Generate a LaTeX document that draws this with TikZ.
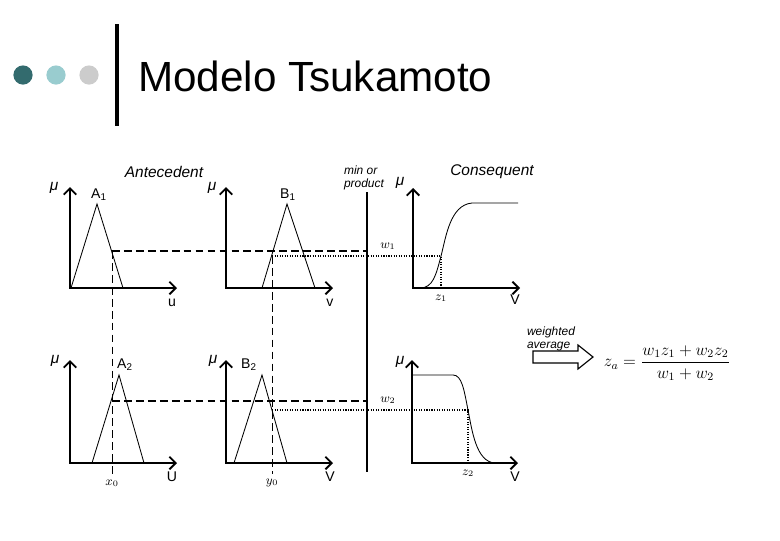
\documentclass[tikz,border=0pt]{standalone}
\usepackage{fontspec}
\setmainfont{Liberation Sans}
\usetikzlibrary{arrows.meta}

\definecolor{dotA}{HTML}{336B6E}
\definecolor{dotB}{HTML}{99CCCF}
\definecolor{dotC}{HTML}{CCCCCC}

\begin{document}
\begin{tikzpicture}[x=0.025cm,y=-0.025cm,>={Straight Barb[length=4.5pt,width=9pt]},font=\small]
\tikzstyle{axis}=[line width=1.3pt,<->]
\tikzstyle{mf}=[line width=0.6pt]
\tikzstyle{cut}=[line width=1pt,dash pattern=on 5.5pt off 3pt]
\tikzstyle{vcut}=[line width=0.7pt,dash pattern=on 5.5pt off 3pt]
\tikzstyle{lvl}=[line width=0.8pt,densely dotted]
\tikzstyle{head}=[font=\fontsize{11}{13}\selectfont\itshape]
\tikzstyle{note}=[font=\fontsize{8.5}{9}\selectfont\itshape,align=left]
\tikzstyle{lbl}=[font=\fontsize{10}{11}\selectfont]
\tikzstyle{mu}=[font=\fontsize{11}{12}\selectfont\itshape]
\tikzstyle{val}=[font=\fontsize{9}{10}\selectfont]
\useasboundingbox (0,0) rectangle (780,540);

% title
\fill[dotA] (23,75) circle[radius=0.24cm];
\fill[dotB] (56,75) circle[radius=0.24cm];
\fill[dotC] (89,75) circle[radius=0.24cm];
\draw[line width=2.2pt] (117,24) -- (117,126);
\node[anchor=base west,inner sep=0pt,font=\fontsize{30}{34}\selectfont] (title) at (138,91) {Modelo Tsukamoto};

% headers
\node[head] (ant) at (164,172) {Antecedent};
\node[head] (con) at (492,172) {Consequent};
\node[note] (min) at (364,178) {min or\\product};
\node[note] (avg) at (551,339) {weighted\\average};

% points used by the guide lines
\coordinate (o3) at (413,288);
\coordinate (o6) at (412,463);
\coordinate (minT) at (367,192);
\coordinate (minB) at (367,472);
\coordinate (cA1) at (112,251);
\coordinate (cB1) at (272,256);
\coordinate (cA2) at (112,401);
\coordinate (cB2) at (272,410);
\coordinate (cz1) at (441,256);
\coordinate (cz2) at (468,410);

% axes
\draw[axis] (70,187) -- (70,288) -- (177,288);
\draw[axis] (226,187) -- (226,288) -- (333,288);
\draw[axis] (o3 |- 0,188) -- (o3) -- (520,288);
\draw[axis] (70,360) -- (70,463) -- (177,463);
\draw[axis] (226,360) -- (226,463) -- (333,463);
\draw[axis] (o6 |- 0,360) -- (o6) -- (518,463);

\node[mu] (mu1) at (54,188) {μ};
\node[mu] (mu2) at (212,188) {μ};
\node[mu] (mu3) at (400,183) {μ};
\node[mu] (mu4) at (55,361) {μ};
\node[mu] (mu5) at (213,361) {μ};
\node[mu] (mu6) at (400,362) {μ};
\node[lbl] (u1) at (172,303) {u};
\node[lbl] (v1) at (330,303) {v};
\node[lbl] (v3) at (515,300) {V};
\node[lbl] (u2) at (172,477) {U};
\node[lbl] (v2) at (330,477) {V};
\node[lbl] (v4) at (515,477) {V};

% membership functions
\draw[mf] (71,288) -- (97,204) -- (123,288);
\draw[mf] (262,288) -- (287,204) -- (315,288);
\draw[mf] (92,463) -- (119,375) -- (144,463);
\draw[mf] (234,463) -- (262,375) -- (287,463);
\node[lbl] (A1) at (99,195) {A\textsubscript{1}};
\node[lbl] (B1) at (288,195) {B\textsubscript{1}};
\node[lbl] (A2) at (125,365) {A\textsubscript{2}};
\node[lbl] (B2) at (249,365) {B\textsubscript{2}};

\draw[mf] (420,288) .. controls (433,288) and (436,275) .. (cz1)
  .. controls (446,237) and (450,205) .. (472,203) -- (518,203);
\draw[mf] (o6 |- 0,375) -- (453,375) .. controls (462,375) and (464,390) .. (cz2)
  .. controls (472,430) and (476,462) .. (495,463);

% inputs and firing levels
\node[val] (x0) at (112,483) {$x_0$};
\node[val] (y0) at (272,483) {$y_0$};
\draw[vcut] (cA1) -- (x0.north);
\draw[vcut] (cB1) -- (y0.north);
\draw[cut] (cA1) -- (cA1 -| minT);
\draw[cut] (cA2) -- (cA2 -| minT);
\draw[line width=1pt] (minT) -- (minB);
\draw[lvl] (cB1) -- (cz1) -- (cz1 |- o3);
\draw[lvl] (cB2) -- (cz2) -- (cz2 |- o6);
\node[val] (w1) at (388,246) {$w_1$};
\node[val] (w2) at (388,400) {$w_2$};
\node[val] (z1) at (441,298) {$z_1$};
\node[val] (z2) at (468,473) {$z_2$};

% output
\draw[line width=0.8pt] (533,351) -- (578,351) -- (578,345) -- (593,357)
  -- (578,369) -- (578,363) -- (533,363) -- cycle;
\node[font=\fontsize{12}{14}\selectfont] (za) at (667,363)
  {$z_a=\displaystyle\frac{w_1z_1+w_2z_2}{w_1+w_2}$};
\end{tikzpicture}
\end{document}
